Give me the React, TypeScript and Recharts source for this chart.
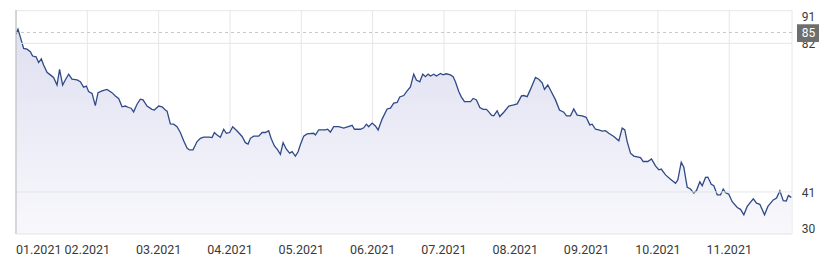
import React from 'react';
import { ComposedChart, Area, XAxis, YAxis, CartesianGrid, ReferenceLine } from 'recharts';

// x position in months since 01.2021 (0 = start of January)
const monthPos = [
  0, 0.028, 0.06, 0.107, 0.154, 0.201, 0.233, 0.281, 0.317, 0.355, 0.387, 0.435, 0.481, 0.527, 0.575, 0.611,
  0.654, 0.691, 0.738, 0.785, 0.856, 0.902, 0.948, 0.986, 1.018, 1.066, 1.112, 1.15, 1.206, 1.276, 1.346, 1.393,
  1.439, 1.487, 1.533, 1.579, 1.613, 1.649, 1.697, 1.743, 1.781, 1.837, 1.907, 1.94, 2.0, 2.048, 2.094, 2.118,
  2.164, 2.21, 2.258, 2.304, 2.351, 2.398, 2.431, 2.482, 2.539, 2.585, 2.631, 2.715,
  2.749, 2.781, 2.819, 2.865, 2.912, 2.949, 2.996, 3.038, 3.1, 3.17, 3.216, 3.254, 3.286, 3.332, 3.403, 3.45,
  3.497, 3.543, 3.576, 3.623, 3.669, 3.707, 3.745, 3.791, 3.837, 3.871, 3.917, 3.955, 3.987, 4.034, 4.081, 4.174,
  4.198, 4.244, 4.338, 4.37, 4.408, 4.454, 4.525, 4.595, 4.713, 4.745, 4.829, 4.875, 4.913, 4.945, 4.993, 5.039,
  5.077, 5.133, 5.203, 5.25, 5.296, 5.344, 5.38, 5.436, 5.484, 5.53, 5.576, 5.614, 5.661, 5.703, 5.741, 5.778,
  5.811, 5.857, 5.895, 5.951, 5.989, 6.031, 6.091, 6.129, 6.161, 6.208, 6.241, 6.288, 6.372, 6.41, 6.456, 6.503,
  6.55, 6.596, 6.629, 6.666, 6.698, 6.746, 6.783, 6.839, 6.909, 6.979, 7.027, 7.087, 7.119, 7.167, 7.213, 7.283,
  7.33, 7.377, 7.41, 7.456, 7.504, 7.564, 7.62, 7.68, 7.718, 7.774, 7.82, 7.868, 7.938, 7.994, 8.045, 8.079,
  8.125, 8.171, 8.219, 8.265, 8.311, 8.382, 8.452, 8.499, 8.536, 8.569, 8.616, 8.662, 8.756, 8.794, 8.858, 8.91,
  8.966, 9.013, 9.046, 9.107, 9.177, 9.247, 9.279, 9.327, 9.363, 9.411, 9.457, 9.503, 9.541, 9.588, 9.621, 9.668,
  9.7, 9.748, 9.784, 9.832, 9.878, 9.916, 9.948, 9.994, 10.042, 10.112, 10.158, 10.205, 10.252, 10.337, 10.383, 10.429,
  10.495, 10.542, 10.617, 10.663, 10.71, 10.757, 10.799, 10.829, 10.87,
];

const prices = [
  84.6, 85.9, 83.8, 80.6, 80.4, 79.7, 78.5, 78.3, 76.7, 77.7, 76.0, 74.0, 73.3, 72.6, 70.5, 74.8,
  70.5, 71.9, 73.5, 72.1, 71.9, 71.4, 69.9, 70.2, 68.7, 68.2, 64.8, 68.4, 68.9, 69.3, 68.4, 67.5,
  66.8, 64.5, 64.7, 64.3, 64.1, 63.1, 65.2, 66.6, 66.4, 64.7, 63.8, 63.6, 64.7, 64.5, 63.6, 63.3,
  59.8, 59.7, 59.0, 57.4, 55.1, 53.1, 52.6, 52.6, 54.9, 55.8, 56.1, 56.1,
  56.0, 57.4, 56.7, 56.1, 58.3, 57.2, 57.4, 59.0, 57.8, 56.3, 54.6, 54.2, 55.8, 56.4, 56.4, 57.4,
  57.4, 57.9, 55.8, 53.7, 52.6, 51.4, 54.6, 52.8, 51.7, 52.1, 50.9, 52.1, 54.0, 56.4, 57.0, 57.2,
  56.7, 58.1, 58.1, 58.3, 57.5, 59.0, 59.0, 58.6, 59.4, 58.3, 58.3, 58.7, 59.7, 59.0, 60.0, 59.2,
  58.1, 61.1, 63.9, 64.1, 65.5, 65.7, 67.2, 67.6, 68.9, 70.0, 73.5, 71.9, 71.4, 73.5, 72.8, 73.5,
  73.0, 73.5, 73.0, 73.7, 73.3, 73.6, 73.3, 72.8, 71.4, 68.7, 67.3, 65.9, 65.9, 66.8, 66.4, 64.3,
  63.8, 63.8, 63.1, 62.2, 62.0, 63.4, 61.8, 63.0, 64.7, 65.0, 65.3, 67.5, 67.6, 67.3, 69.3, 72.6,
  72.1, 71.1, 69.3, 70.5, 68.7, 66.4, 63.6, 63.0, 62.0, 62.0, 63.9, 62.2, 62.0, 61.6, 59.5, 59.7,
  58.3, 58.1, 57.8, 57.9, 57.2, 56.3, 55.1, 58.6, 58.1, 54.9, 51.7, 50.9, 50.5, 49.4, 49.4, 50.1,
  48.2, 47.1, 47.3, 45.7, 44.5, 43.4, 44.3, 49.2, 47.8, 42.3, 41.8, 40.7, 41.4, 43.8, 42.7, 45.0,
  45.1, 43.1, 42.7, 40.2, 40.2, 41.8, 40.8, 40.4, 38.3, 36.7, 36.2, 34.7, 37.0, 39.1, 37.9, 37.6,
  34.7, 37.0, 38.8, 39.3, 41.3, 38.6, 38.5, 40.0, 39.5,
];

const monthTicks = [0, 1, 2, 3, 4, 5, 6, 7, 8, 9, 10];
const monthLabels = [
  '01.2021', '02.2021', '03.2021', '04.2021', '05.2021', '06.2021',
  '07.2021', '08.2021', '09.2021', '10.2021', '11.2021',
];
const yTicks = [30, 41, 82, 85, 91];
const gridValues = [41, 82, 91];
const markerValue = 85;

const X_MAX = 10.88;
const Y_MIN = 29.4;
const Y_MAX = 91.2;

const W = 828;
const H = 264;
const M_TOP = 10;
const X_AXIS_H = 30;
const PLOT_TOP = M_TOP;
const PLOT_BOTTOM = H - X_AXIS_H;

const data = monthPos.map((t, i) => ({ t, price: prices[i] }));

const XTick = (props: any) => {
  const { x, y, payload, index } = props;
  return (
    <text
      x={x}
      y={y + 20.3}
      textAnchor={index === 0 ? 'start' : 'middle'}
      fill="#3a3a3a"
      fontSize={12.5}
      fontFamily="Roboto"
    >
      {monthLabels[monthTicks.indexOf(payload.value)]}
    </text>
  );
};

const YTick = (props: any) => {
  const { x, y, payload } = props;
  const v = payload.value;
  const cy = Math.min(Math.max(y, PLOT_TOP + 5.7), PLOT_BOTTOM - 5.7) + 0.6;
  if (v === markerValue) {
    return (
      <g>
        <rect x={x + 5} y={cy - 8.8} width={22} height={17.7} fill="#6e6e6e" />
        <text x={x + 9.7} y={cy} dy="0.36em" fill="#ffffff" fontSize={12} fontFamily="Roboto">
          {v}
        </text>
      </g>
    );
  }
  return (
    <text x={x + 9.7} y={cy} dy="0.36em" fill="#3a3a3a" fontSize={12} fontFamily="Roboto">
      {v}
    </text>
  );
};

export default function App() {
  return (
    <div style={{ position: 'absolute', left: 0, top: 0, width: W, height: H, background: '#fff' }}>
      <ComposedChart
        width={W}
        height={H}
        data={data}
        margin={{ top: M_TOP, right: 0, left: 16, bottom: 0 }}
        style={{ fontFamily: 'Roboto' }}
      >
        <defs>
          <linearGradient id="fillGrad" x1="0" y1="0" x2="0" y2="1">
            <stop offset="0%" stopColor="#dfe0f1" />
            <stop offset="100%" stopColor="#f8f8fc" />
          </linearGradient>
        </defs>
        <CartesianGrid horizontal={false} vertical stroke="#e6e6e6" />
        <XAxis
          dataKey="t"
          type="number"
          domain={[0, X_MAX]}
          ticks={monthTicks}
          interval={0}
          height={X_AXIS_H}
          axisLine={{ stroke: '#e3e3e3' }}
          tickLine={false}
          tickSize={0}
          tickMargin={0}
          tick={<XTick />}
          allowDataOverflow
        />
        <YAxis
          orientation="right"
          type="number"
          domain={[Y_MIN, Y_MAX]}
          ticks={yTicks}
          interval={0}
          width={36}
          axisLine={false}
          tickLine={false}
          tickSize={0}
          tickMargin={0}
          tick={<YTick />}
          allowDataOverflow
        />
        {gridValues.map((v) => (
          <ReferenceLine key={v} y={v} stroke="#e6e6e6" ifOverflow="extendDomain" />
        ))}
        <ReferenceLine y={markerValue} stroke="#c8c8c8" strokeDasharray="3 3" />
        <ReferenceLine x={0} stroke="#b8b8b8" />
        <Area
          type="linear"
          dataKey="price"
          stroke="#2f4a87"
          strokeWidth={1.3}
          fill="url(#fillGrad)"
          fillOpacity={1}
          isAnimationActive={false}
          dot={false}
          activeDot={false}
        />
      </ComposedChart>
    </div>
  );
}
